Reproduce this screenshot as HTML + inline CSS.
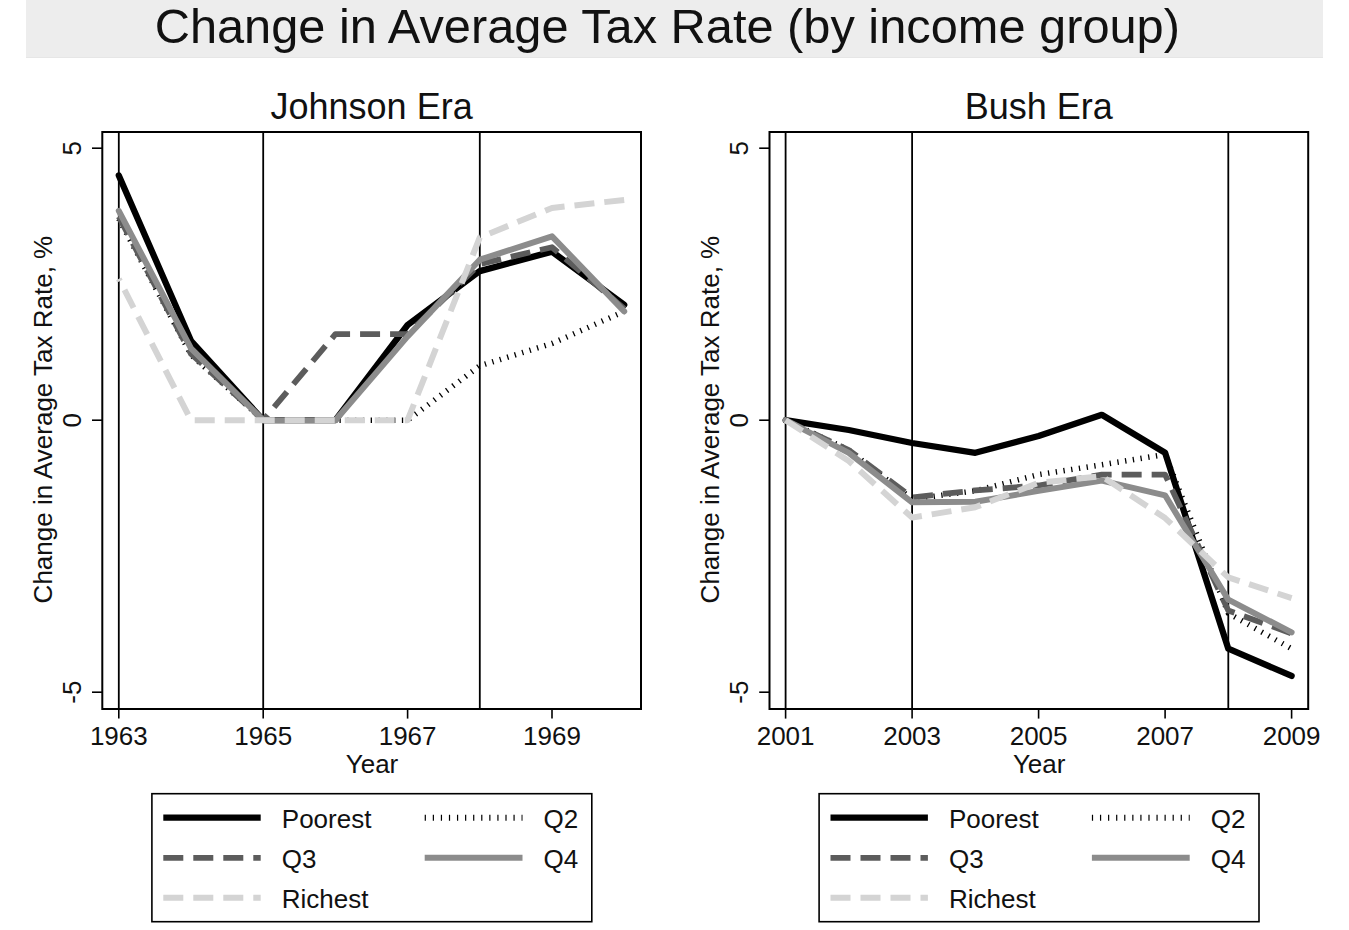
<!DOCTYPE html>
<html><head><meta charset="utf-8"><style>
html,body{margin:0;padding:0;background:#fff;}
svg{display:block;}
text{fill:#111;}
</style></head><body>
<svg width="1349" height="930" viewBox="0 0 1349 930">
<rect x="0" y="0" width="1349" height="930" fill="#fff"/>
<rect x="26" y="0" width="1297" height="58" fill="#ededed"/>
<rect x="26" y="57" width="1297" height="1" fill="#e6e6e6"/>
<text x="154.7" y="43.4" font-family="Liberation Sans, sans-serif" font-size="48.75" fill="#111">Change in Average Tax Rate (by income group)</text>
<g><line x1="118.8" y1="132" x2="118.8" y2="709" stroke="#000" stroke-width="1.8"/>
<line x1="263.2" y1="132" x2="263.2" y2="709" stroke="#000" stroke-width="1.8"/>
<line x1="479.8" y1="132" x2="479.8" y2="709" stroke="#000" stroke-width="1.8"/>
<polyline points="118.8,175.4 191.0,340.8 263.2,420.2 335.4,420.2 407.6,325.0 479.8,271.1 552.0,251.6 624.2,304.9" fill="none" stroke="#000000" stroke-width="6.3" stroke-dashoffset="0" stroke-linejoin="round" stroke-linecap="round"/>
<polyline points="118.8,218.9 191.0,354.9 263.2,420.2 335.4,420.2 407.6,420.2 479.8,365.8 552.0,343.5 624.2,311.4" fill="none" stroke="#000000" stroke-width="5.5" stroke-dasharray="1.3 6.5" stroke-dashoffset="0" stroke-linejoin="round" stroke-linecap="butt"/>
<polyline points="118.8,216.7 191.0,353.8 263.2,420.2 335.4,334.2 407.6,334.2 479.8,264.1 552.0,247.2 624.2,308.7" fill="none" stroke="#5c5c5c" stroke-width="5.8" stroke-dasharray="20 10" stroke-dashoffset="0" stroke-linejoin="round" stroke-linecap="butt"/>
<polyline points="118.8,210.8 191.0,348.4 263.2,420.2 335.4,420.2 407.6,336.4 479.8,259.7 552.0,236.3 624.2,311.4" fill="none" stroke="#8c8c8c" stroke-width="6" stroke-dashoffset="0" stroke-linejoin="round" stroke-linecap="round"/>
<polyline points="118.8,278.8 191.0,420.2 263.2,420.2 335.4,420.2 407.6,420.2 479.8,237.4 552.0,208.0 624.2,199.9" fill="none" stroke="#d4d4d4" stroke-width="6" stroke-dasharray="20 10" stroke-dashoffset="17.5" stroke-linejoin="round" stroke-linecap="butt"/>
<rect x="102.3" y="132" width="538.7" height="577" fill="none" stroke="#000" stroke-width="2"/>
<line x1="92" y1="148.2" x2="102.3" y2="148.2" stroke="#000" stroke-width="1.6"/>
<text x="81" y="148.2" transform="rotate(-90 81 148.2)" text-anchor="middle" font-family="Liberation Sans, sans-serif" font-size="26">5</text>
<line x1="92" y1="420.2" x2="102.3" y2="420.2" stroke="#000" stroke-width="1.6"/>
<text x="81" y="420.2" transform="rotate(-90 81 420.2)" text-anchor="middle" font-family="Liberation Sans, sans-serif" font-size="26">0</text>
<line x1="92" y1="692.2" x2="102.3" y2="692.2" stroke="#000" stroke-width="1.6"/>
<text x="81" y="692.2" transform="rotate(-90 81 692.2)" text-anchor="middle" font-family="Liberation Sans, sans-serif" font-size="26">-5</text>
<line x1="118.8" y1="709" x2="118.8" y2="718.6" stroke="#000" stroke-width="1.6"/>
<text x="118.8" y="744.6" text-anchor="middle" font-family="Liberation Sans, sans-serif" font-size="26">1963</text>
<line x1="263.2" y1="709" x2="263.2" y2="718.6" stroke="#000" stroke-width="1.6"/>
<text x="263.2" y="744.6" text-anchor="middle" font-family="Liberation Sans, sans-serif" font-size="26">1965</text>
<line x1="407.6" y1="709" x2="407.6" y2="718.6" stroke="#000" stroke-width="1.6"/>
<text x="407.6" y="744.6" text-anchor="middle" font-family="Liberation Sans, sans-serif" font-size="26">1967</text>
<line x1="552.0" y1="709" x2="552.0" y2="718.6" stroke="#000" stroke-width="1.6"/>
<text x="552.0" y="744.6" text-anchor="middle" font-family="Liberation Sans, sans-serif" font-size="26">1969</text>
<text x="372" y="773.2" text-anchor="middle" font-family="Liberation Sans, sans-serif" font-size="26">Year</text>
<text x="52.3" y="419.6" transform="rotate(-90 52.3 419.6)" text-anchor="middle" font-family="Liberation Sans, sans-serif" font-size="26">Change in Average Tax Rate, %</text>
<text x="371.6" y="119.2" text-anchor="middle" font-family="Liberation Sans, sans-serif" font-size="36">Johnson Era</text>
<rect x="151.9" y="793.7" width="439.9" height="128" fill="none" stroke="#000" stroke-width="1.6"/>
<line x1="163.3" y1="817.7" x2="260.7" y2="817.7" stroke="#000000" stroke-width="6.3"/>
<line x1="163.3" y1="857.8" x2="260.7" y2="857.8" stroke="#5c5c5c" stroke-width="5.8" stroke-dasharray="20 10"/>
<line x1="163.3" y1="897.8" x2="260.7" y2="897.8" stroke="#d4d4d4" stroke-width="6" stroke-dasharray="20 10"/>
<line x1="424.7" y1="817.7" x2="522.5" y2="817.7" stroke="#000000" stroke-width="6" stroke-dasharray="1.2 6.87"/>
<line x1="424.7" y1="857.8" x2="522.5" y2="857.8" stroke="#8c8c8c" stroke-width="6"/>
<text x="281.8" y="827.7" font-family="Liberation Sans, sans-serif" font-size="26">Poorest</text>
<text x="281.8" y="867.7" font-family="Liberation Sans, sans-serif" font-size="26">Q3</text>
<text x="281.8" y="907.7" font-family="Liberation Sans, sans-serif" font-size="26">Richest</text>
<text x="543.5" y="827.7" font-family="Liberation Sans, sans-serif" font-size="26">Q2</text>
<text x="543.5" y="867.7" font-family="Liberation Sans, sans-serif" font-size="26">Q4</text></g>
<g transform="translate(667.2 0)"><line x1="118.4" y1="132" x2="118.4" y2="709" stroke="#000" stroke-width="1.8"/>
<line x1="244.9" y1="132" x2="244.9" y2="709" stroke="#000" stroke-width="1.8"/>
<line x1="561.1" y1="132" x2="561.1" y2="709" stroke="#000" stroke-width="1.8"/>
<polyline points="118.4,420.2 181.6,430.0 244.9,443.0 308.1,452.8 371.4,436.0 434.6,414.8 497.9,452.8 561.1,648.7 624.4,675.9" fill="none" stroke="#000000" stroke-width="6.3" stroke-dashoffset="0" stroke-linejoin="round" stroke-linecap="round"/>
<polyline points="118.4,420.2 181.6,450.1 244.9,499.1 308.1,490.9 371.4,474.6 434.6,464.8 497.9,454.5 561.1,613.3 624.4,648.7" fill="none" stroke="#000000" stroke-width="5.5" stroke-dasharray="1.3 6.5" stroke-dashoffset="0" stroke-linejoin="round" stroke-linecap="butt"/>
<polyline points="118.4,420.2 181.6,450.1 244.9,497.4 308.1,490.4 371.4,485.5 434.6,474.6 497.9,474.6 561.1,610.6 624.4,633.4" fill="none" stroke="#5c5c5c" stroke-width="5.8" stroke-dasharray="20 10" stroke-dashoffset="0" stroke-linejoin="round" stroke-linecap="butt"/>
<polyline points="118.4,420.2 181.6,452.8 244.9,502.3 308.1,501.8 371.4,490.9 434.6,480.6 497.9,495.3 561.1,599.7 624.4,632.4" fill="none" stroke="#8c8c8c" stroke-width="6" stroke-dashoffset="0" stroke-linejoin="round" stroke-linecap="round"/>
<polyline points="118.4,420.2 181.6,461.0 244.9,517.6 308.1,507.2 371.4,482.8 434.6,476.2 497.9,518.1 561.1,577.4 624.4,598.1" fill="none" stroke="#d4d4d4" stroke-width="6" stroke-dasharray="20 10" stroke-dashoffset="0" stroke-linejoin="round" stroke-linecap="butt"/>
<rect x="102.3" y="132" width="538.7" height="577" fill="none" stroke="#000" stroke-width="2"/>
<line x1="92" y1="148.2" x2="102.3" y2="148.2" stroke="#000" stroke-width="1.6"/>
<text x="81" y="148.2" transform="rotate(-90 81 148.2)" text-anchor="middle" font-family="Liberation Sans, sans-serif" font-size="26">5</text>
<line x1="92" y1="420.2" x2="102.3" y2="420.2" stroke="#000" stroke-width="1.6"/>
<text x="81" y="420.2" transform="rotate(-90 81 420.2)" text-anchor="middle" font-family="Liberation Sans, sans-serif" font-size="26">0</text>
<line x1="92" y1="692.2" x2="102.3" y2="692.2" stroke="#000" stroke-width="1.6"/>
<text x="81" y="692.2" transform="rotate(-90 81 692.2)" text-anchor="middle" font-family="Liberation Sans, sans-serif" font-size="26">-5</text>
<line x1="118.4" y1="709" x2="118.4" y2="718.6" stroke="#000" stroke-width="1.6"/>
<text x="118.4" y="744.6" text-anchor="middle" font-family="Liberation Sans, sans-serif" font-size="26">2001</text>
<line x1="244.9" y1="709" x2="244.9" y2="718.6" stroke="#000" stroke-width="1.6"/>
<text x="244.9" y="744.6" text-anchor="middle" font-family="Liberation Sans, sans-serif" font-size="26">2003</text>
<line x1="371.4" y1="709" x2="371.4" y2="718.6" stroke="#000" stroke-width="1.6"/>
<text x="371.4" y="744.6" text-anchor="middle" font-family="Liberation Sans, sans-serif" font-size="26">2005</text>
<line x1="497.9" y1="709" x2="497.9" y2="718.6" stroke="#000" stroke-width="1.6"/>
<text x="497.9" y="744.6" text-anchor="middle" font-family="Liberation Sans, sans-serif" font-size="26">2007</text>
<line x1="624.4" y1="709" x2="624.4" y2="718.6" stroke="#000" stroke-width="1.6"/>
<text x="624.4" y="744.6" text-anchor="middle" font-family="Liberation Sans, sans-serif" font-size="26">2009</text>
<text x="372" y="773.2" text-anchor="middle" font-family="Liberation Sans, sans-serif" font-size="26">Year</text>
<text x="52.3" y="419.6" transform="rotate(-90 52.3 419.6)" text-anchor="middle" font-family="Liberation Sans, sans-serif" font-size="26">Change in Average Tax Rate, %</text>
<text x="371.6" y="119.2" text-anchor="middle" font-family="Liberation Sans, sans-serif" font-size="36">Bush Era</text>
<rect x="151.9" y="793.7" width="439.9" height="128" fill="none" stroke="#000" stroke-width="1.6"/>
<line x1="163.3" y1="817.7" x2="260.7" y2="817.7" stroke="#000000" stroke-width="6.3"/>
<line x1="163.3" y1="857.8" x2="260.7" y2="857.8" stroke="#5c5c5c" stroke-width="5.8" stroke-dasharray="20 10"/>
<line x1="163.3" y1="897.8" x2="260.7" y2="897.8" stroke="#d4d4d4" stroke-width="6" stroke-dasharray="20 10"/>
<line x1="424.7" y1="817.7" x2="522.5" y2="817.7" stroke="#000000" stroke-width="6" stroke-dasharray="1.2 6.87"/>
<line x1="424.7" y1="857.8" x2="522.5" y2="857.8" stroke="#8c8c8c" stroke-width="6"/>
<text x="281.8" y="827.7" font-family="Liberation Sans, sans-serif" font-size="26">Poorest</text>
<text x="281.8" y="867.7" font-family="Liberation Sans, sans-serif" font-size="26">Q3</text>
<text x="281.8" y="907.7" font-family="Liberation Sans, sans-serif" font-size="26">Richest</text>
<text x="543.5" y="827.7" font-family="Liberation Sans, sans-serif" font-size="26">Q2</text>
<text x="543.5" y="867.7" font-family="Liberation Sans, sans-serif" font-size="26">Q4</text></g>
</svg>
</body></html>
